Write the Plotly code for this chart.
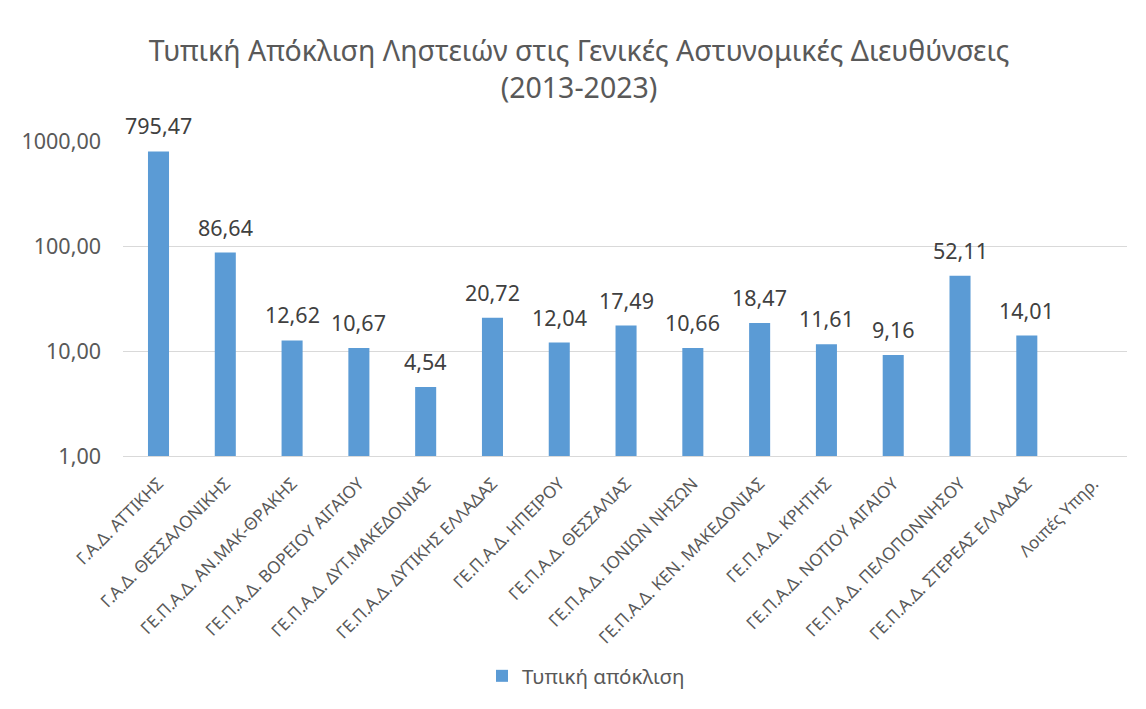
import math
import plotly.graph_objects as go

categories = [
    "Γ.Α.Δ. ΑΤΤΙΚΗΣ",
    "Γ.Α.Δ. ΘΕΣΣΑΛΟΝΙΚΗΣ",
    "ΓΕ.Π.Α.Δ. ΑΝ.ΜΑΚ-ΘΡΑΚΗΣ",
    "ΓΕ.Π.Α.Δ. ΒΟΡΕΙΟΥ ΑΙΓΑΙΟΥ",
    "ΓΕ.Π.Α.Δ. ΔΥΤ.ΜΑΚΕΔΟΝΙΑΣ",
    "ΓΕ.Π.Α.Δ. ΔΥΤΙΚΗΣ ΕΛΛΑΔΑΣ",
    "ΓΕ.Π.Α.Δ. ΗΠΕΙΡΟΥ",
    "ΓΕ.Π.Α.Δ. ΘΕΣΣΑΛΙΑΣ",
    "ΓΕ.Π.Α.Δ. ΙΟΝΙΩΝ ΝΗΣΩΝ",
    "ΓΕ.Π.Α.Δ. ΚΕΝ. ΜΑΚΕΔΟΝΙΑΣ",
    "ΓΕ.Π.Α.Δ. ΚΡΗΤΗΣ",
    "ΓΕ.Π.Α.Δ. ΝΟΤΙΟΥ ΑΙΓΑΙΟΥ",
    "ΓΕ.Π.Α.Δ. ΠΕΛΟΠΟΝΝΗΣΟΥ",
    "ΓΕ.Π.Α.Δ. ΣΤΕΡΕΑΣ ΕΛΛΑΔΑΣ",
    "Λοιπές Υπηρ.",
]
std_dev = [795.47, 86.64, 12.62, 10.67, 4.54, 20.72, 12.04, 17.49, 10.66,
           18.47, 11.61, 9.16, 52.11, 14.01, None]
tick_vals = [1, 10, 100, 1000]
tick_text = ["1,00", "10,00", "100,00", "1000,00"]

# page body has an 8px margin; figure sized to fit the 1146x709 window
W, H = 1130, 693
ml, mr, mt, mb = 115, 11, 133, 245

fig = go.Figure()
fig.add_trace(go.Bar(
    x=categories, y=std_dev, name="Τυπική απόκλιση",
    marker=dict(color="#5B9BD5", line=dict(width=0)),
))

# data labels built from the data arrays (log axis -> annotation y in log10 units)
for cat, val in zip(categories, std_dev):
    if val is None:
        continue
    fig.add_annotation(
        x=cat, y=math.log10(val), yref="y", xref="x", yanchor="bottom",
        text=f"{val:.2f}".replace(".", ","), showarrow=False, yshift=9,
        font=dict(size=21.5, color="#404040", family="Noto Sans"),
    )

fig.update_layout(
    width=W, height=H,
    margin=dict(l=ml, r=mr, t=mt, b=mb),
    paper_bgcolor="white", plot_bgcolor="white",
    separators=",.",
    font=dict(family="Noto Sans", color="#595959"),
    title=dict(
        text="Τυπική Απόκλιση Ληστειών στις Γενικές Αστυνομικές Διευθύνσεις<br>(2013-2023)",
        x=571 / W, xanchor="center", y=1 - 53 / H, yanchor="top",
        font=dict(size=28.5, color="#595959", family="Noto Sans"),
    ),
    showlegend=True,
    legend=dict(orientation="h", xref="container", x=578 / W, xanchor="center",
                yref="container", y=1 - 668 / H, yanchor="middle",
                font=dict(size=20.5, color="#595959")),
    xaxis=dict(tickangle=-45, tickfont=dict(size=17, color="#595959"),
               showline=True, linecolor="#D9D9D9", linewidth=1, ticks="",
               ticklabelstandoff=10, automargin=False),
    yaxis=dict(type="log", range=[0, 3], tickvals=tick_vals, ticktext=tick_text,
               tickfont=dict(size=21.5, color="#595959"),
               showgrid=True, gridcolor="#D9D9D9", gridwidth=1,
               zeroline=False, showline=False, ticks="", ticklabelstandoff=21,
               automargin=False),
    bargap=0.685,
)

fig.write_html("out.html")
